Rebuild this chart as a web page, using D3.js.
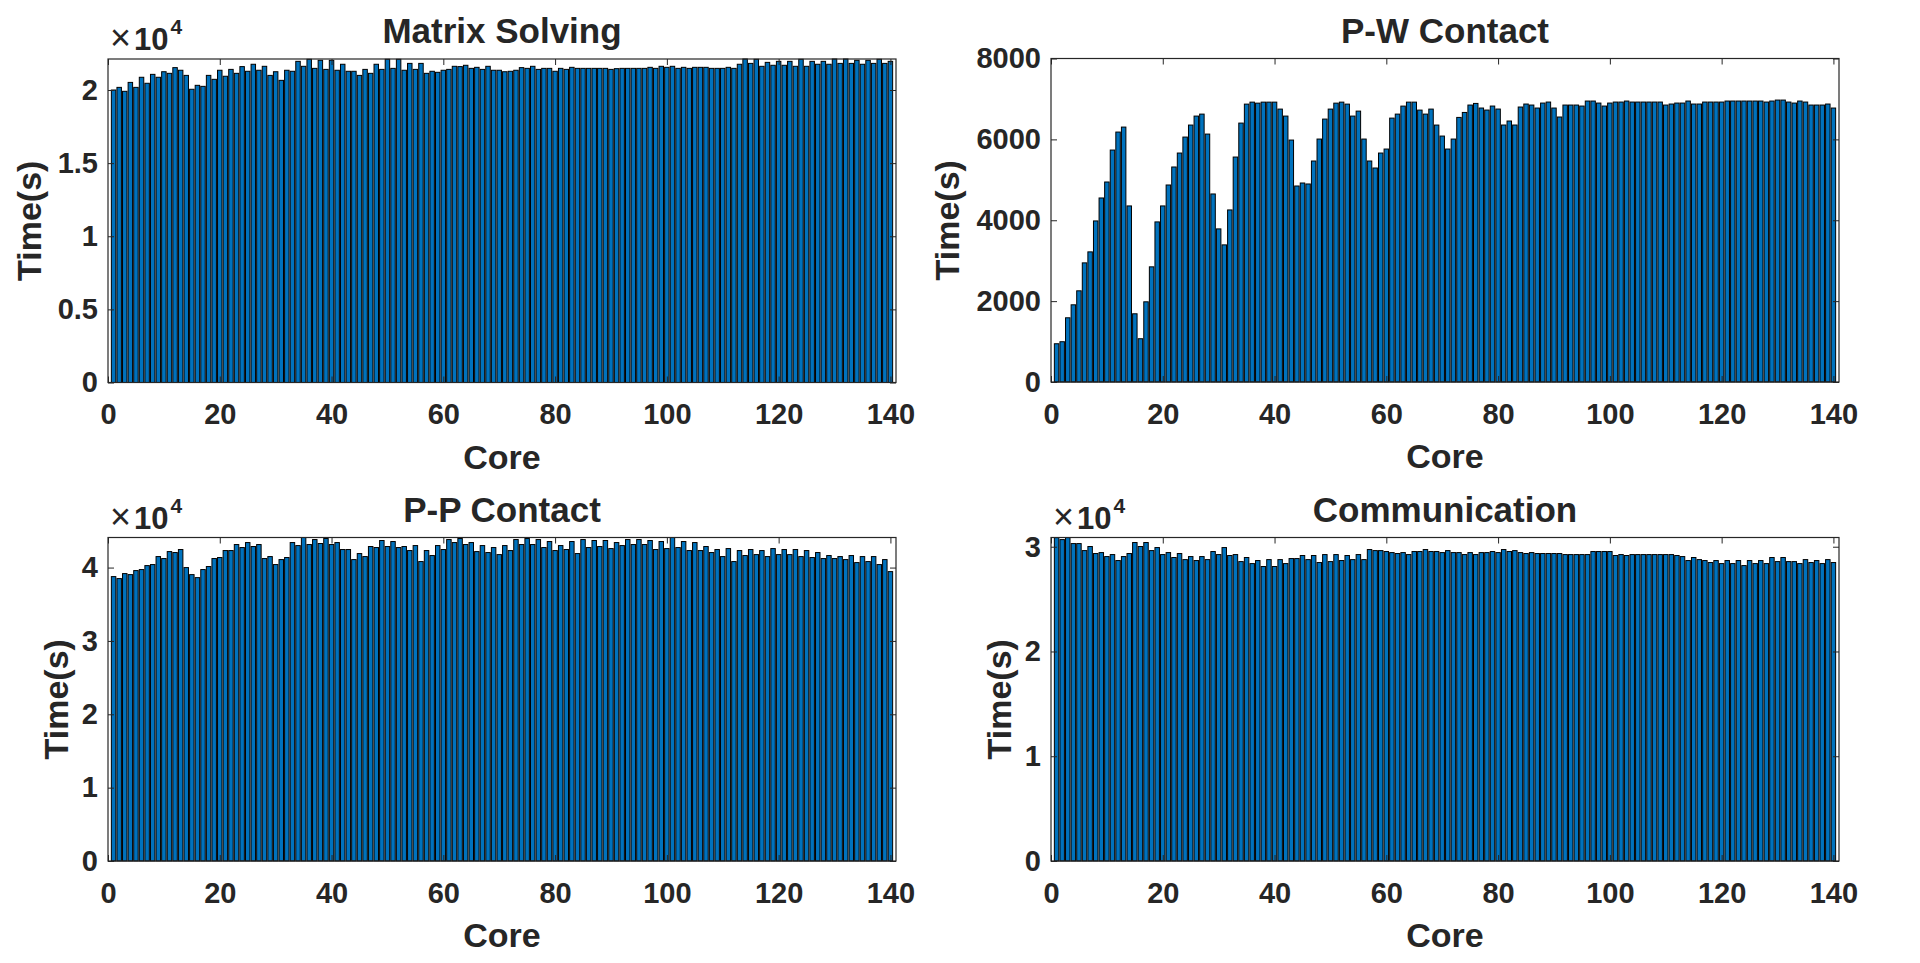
<!DOCTYPE html>
<html><head><meta charset="utf-8">
<script src="https://cdn.jsdelivr.net/npm/d3@7"></script>
<style>
body{margin:0;background:#fff}
svg{display:block}
text{font-family:"Liberation Sans",Arial,Helvetica,sans-serif;fill:#262626}
</style>
</head><body>
<svg id="chart" width="1920" height="963"></svg>
<script>
// ---------------- data ----------------
const cores = d3.range(1, 141);

const matrixSolving = [
20000,20180,19910,20520,20180,20870,20460,21070,20870,21250,
21140,21530,21350,21000,20050,20320,20250,21000,20730,21350,
20940,21410,21140,21600,21280,21760,21350,21620,21000,21250,
20660,21350,21280,21960,21620,22100,21480,22030,21410,22030,
21350,21760,21280,21280,21000,21410,21140,21760,21410,22100,
21480,22100,21350,21820,21410,21820,21140,21280,21210,21350,
21410,21620,21600,21690,21480,21550,21410,21620,21350,21350,
21250,21280,21350,21530,21480,21620,21410,21480,21480,21280,
21480,21410,21550,21480,21480,21480,21480,21480,21480,21410,
21460,21480,21480,21480,21480,21480,21550,21480,21620,21550,
21620,21480,21550,21480,21550,21550,21550,21480,21480,21480,
21550,21480,21760,22120,21820,22100,21620,21890,21690,21960,
21690,21960,21620,22100,21620,21960,21760,21960,21760,22120,
21820,22120,21820,22030,21760,22030,21820,22100,21820,21960
];

const pwContact = [
946,996,1588,1909,2255,2946,3218,3983,4551,4946,
5736,6181,6304,4354,1687,1070,1983,2848,3959,4354,
4872,5317,5662,6057,6354,6576,6625,6131,4650,3786,
3391,4255,5563,6403,6872,6921,6896,6921,6921,6921,
6749,6576,5983,4847,4921,4897,5465,6008,6502,6749,
6896,6921,6872,6576,6699,6008,5465,5292,5662,5761,
6526,6625,6823,6921,6921,6724,6625,6749,6354,6082,
5761,6008,6543,6666,6849,6889,6775,6725,6824,6750,
6355,6454,6355,6800,6874,6849,6775,6898,6923,6775,
6553,6849,6849,6849,6824,6948,6948,6898,6824,6898,
6923,6923,6948,6923,6923,6923,6923,6923,6923,6849,
6874,6898,6898,6948,6874,6874,6923,6923,6923,6923,
6948,6948,6948,6948,6948,6948,6948,6923,6948,6972,
6972,6923,6898,6948,6923,6849,6849,6849,6874,6775
];

const ppContact = [
38770,38500,39180,39040,39590,39730,40270,40410,41500,41230,
42180,42050,42460,40000,39040,38630,39730,40140,41230,41370,
42320,42320,43140,42730,43410,42870,43140,41230,41500,40410,
41090,41370,43410,43000,44100,43140,43820,43280,43960,43140,
43410,42460,42460,41090,41910,41500,42870,42730,43690,42870,
43550,42730,42870,42320,43000,40820,42320,41640,43000,42460,
43820,43410,43960,43140,43410,42180,43000,42050,42730,41770,
43000,42320,43820,43140,43960,43140,43820,42730,43550,42320,
43000,42460,43550,41910,43820,42730,43690,42870,43690,42590,
43410,43000,43820,43140,43820,43140,43690,42460,43550,42590,
44100,42730,43550,42320,43410,42320,42870,42050,42460,41500,
42590,40820,42320,41640,42460,41770,42320,41500,42590,41770,
42460,41770,42460,41500,42320,41370,42050,41230,41640,41230,
41500,41090,41640,40680,41500,40820,41500,40410,41090,39450
];

const communication = [
30870,30680,30870,30300,30300,29630,30020,29350,29440,29060,
29250,28680,29060,29350,30400,30020,30400,29630,29920,29250,
29440,28970,29350,28770,29060,28680,29060,28770,29540,29250,
29920,29160,29250,28580,28970,28390,28680,28110,28770,28110,
28770,28390,28870,28870,29160,28770,29160,28490,29250,28580,
29250,28680,29160,28770,29250,28770,29730,29630,29630,29540,
29440,29350,29440,29250,29540,29540,29730,29540,29540,29440,
29630,29440,29440,29250,29440,29250,29440,29440,29540,29440,
29730,29540,29630,29440,29350,29440,29350,29350,29350,29350,
29350,29250,29250,29250,29250,29250,29540,29540,29540,29540,
29160,29250,29160,29250,29250,29250,29250,29250,29250,29250,
29250,29160,29060,28680,28970,28770,28680,28490,28680,28390,
28680,28390,28680,28200,28680,28390,28680,28390,28970,28580,
28970,28580,28580,28390,28770,28490,28680,28390,28770,28490
];

const titles = ["Matrix Solving", "P-W Contact", "P-P Contact", "Communication"];
const xTickValues = [0, 20, 40, 60, 80, 100, 120, 140];
const yTicksMatrix = [0, 5000, 10000, 15000, 20000];
const yTicksPW = [0, 2000, 4000, 6000, 8000];
const yTicksPP = [0, 10000, 20000, 30000, 40000];
const yTicksComm = [0, 10000, 20000, 30000];
const yMaxes = [22120, 8000, 44100, 30880];
const xLabel = "Core";
const yLabel = "Time(s)";

// ---------------- layout ----------------
const W = 788, H = 323.5;
const panels = [
  {data: matrixSolving, title: titles[0], yTicks: yTicksMatrix, ymax: yMaxes[0], exp: true,  left: 108,  top: 59,    ylabX: 41},
  {data: pwContact,     title: titles[1], yTicks: yTicksPW,     ymax: yMaxes[1], exp: false, left: 1051, top: 58.5,  ylabX: 959},
  {data: ppContact,     title: titles[2], yTicks: yTicksPP,     ymax: yMaxes[2], exp: true,  left: 108,  top: 537.5, ylabX: 68},
  {data: communication, title: titles[3], yTicks: yTicksComm,   ymax: yMaxes[3], exp: true,  left: 1051, top: 537.5, ylabX: 1011}
];

const svg = d3.select("#chart");
svg.append("rect").attr("width", 1920).attr("height", 963).attr("fill", "#fff");

const TICK_FS = 29, LABEL_FS = 34, TITLE_FS = 35;

panels.forEach(p => {
  const g = svg.append("g").attr("transform", `translate(${p.left},${p.top})`);
  const x = d3.scaleLinear().domain([0, 141]).range([0, W]);
  const y = d3.scaleLinear().domain([0, p.ymax]).range([H, 0]);
  const bw = x(0.8) - x(0);

  // bars
  g.append("g").selectAll("rect").data(p.data).join("rect")
    .attr("x", (d, i) => x(cores[i]) - bw / 2)
    .attr("width", bw)
    .attr("y", d => y(Math.min(d, p.ymax)))
    .attr("height", d => H - y(Math.min(d, p.ymax)))
    .attr("fill", "#0072BD")
    .attr("stroke", "#000")
    .attr("stroke-width", 1);

  const fmt = p.exp ? (v => String(v / 1e4)) : (v => String(v));

  // axes
  const ax = g.append("g").attr("transform", `translate(0,${H})`)
    .call(d3.axisBottom(x).tickValues(xTickValues).tickSizeInner(-6).tickSizeOuter(0).tickPadding(21).tickFormat(d3.format("d")));
  const ay = g.append("g")
    .call(d3.axisLeft(y).tickValues(p.yTicks).tickSizeInner(-6).tickSizeOuter(0).tickPadding(10).tickFormat(fmt));
  const at = g.append("g")
    .call(d3.axisTop(x).tickValues(xTickValues).tickSizeInner(-6).tickSizeOuter(0).tickFormat(""));
  const ar = g.append("g").attr("transform", `translate(${W},0)`)
    .call(d3.axisRight(y).tickValues(p.yTicks).tickSizeInner(-6).tickSizeOuter(0).tickFormat(""));

  [ax, ay, at, ar].forEach(a => {
    a.select(".domain").remove();
    a.selectAll("line").attr("stroke", "#262626").attr("stroke-width", 1);
    a.selectAll("text").attr("font-size", TICK_FS).attr("font-weight", "bold")
      .attr("fill", "#262626").style("font-family", '"Liberation Sans", Arial, sans-serif');
  });

  // box
  g.append("rect").attr("x", 0).attr("y", 0).attr("width", W).attr("height", H)
    .attr("fill", "none").attr("stroke", "#262626").attr("stroke-width", 1.2);

  // title
  g.append("text").attr("x", W / 2).attr("y", -16).attr("text-anchor", "middle")
    .attr("font-size", TITLE_FS).attr("font-weight", "bold").text(p.title);

  // x label
  g.append("text").attr("x", W / 2).attr("y", H + 86).attr("text-anchor", "middle")
    .attr("font-size", LABEL_FS).attr("font-weight", "bold").text(xLabel);

  // y label
  svg.append("text").attr("transform", `translate(${p.ylabX},${p.top + H / 2}) rotate(-90)`)
    .attr("text-anchor", "middle").attr("font-size", LABEL_FS).attr("font-weight", "bold").text(yLabel);

  // exponent
  if (p.exp) {
    const t = g.append("text").attr("x", 2).attr("y", -9);
    t.append("tspan").attr("font-size", 36).attr("font-weight", "normal").text("×");
    t.append("tspan").attr("font-size", 31).attr("font-weight", "bold").attr("dx", 3).text("10");
    t.append("tspan").attr("font-size", 21).attr("font-weight", "bold").attr("dx", 2).attr("dy", -16).text("4");
  }
});
</script>
</body></html>
